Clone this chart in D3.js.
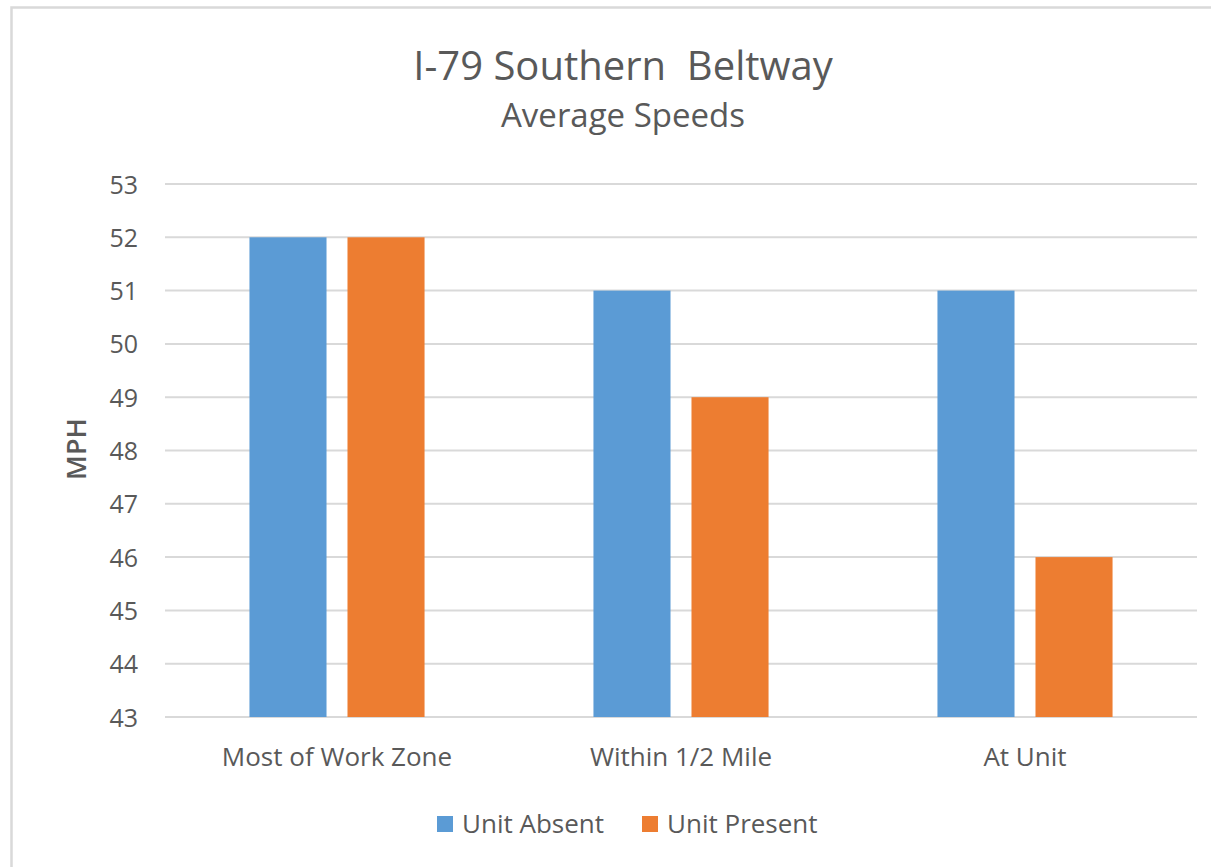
<!DOCTYPE html>
<html>
<head>
<meta charset="utf-8">
<script src="https://cdn.jsdelivr.net/npm/d3@7"></script>
<style>
  html, body { margin: 0; padding: 0; background: #fff; }
  svg text { font-family: "Open Sans", "Liberation Sans", sans-serif; fill: #595959; }
</style>
</head>
<body>
<svg id="chart" width="1211" height="867"></svg>
<script>
const categories = ["Most of Work Zone", "Within 1/2 Mile", "At Unit"];
const seriesNames = ["Unit Absent", "Unit Present"];
const unitAbsent = [52, 51, 51];
const unitPresent = [52, 49, 46];
const yTicks = [43, 44, 45, 46, 47, 48, 49, 50, 51, 52, 53];
const colors = ["#5B9BD5", "#ED7D31"];
const titleText = "I-79 Southern  Beltway";
const subtitleText = "Average Speeds";
const yLabel = "MPH";

const seriesValues = [unitAbsent, unitPresent];
const svg = d3.select("#chart");

// chart frame
svg.append("rect").attr("x", 11.5).attr("y", 7.5).attr("width", 1300).attr("height", 1000)
  .attr("fill", "#fff").attr("stroke", "#D9D9D9").attr("stroke-width", 2.5);

const plot = { left: 165, right: 1197, top: 184, bottom: 717 };

const y = d3.scaleLinear().domain([43, 53]).range([plot.bottom, plot.top]);
const x0 = d3.scaleBand().domain(categories).range([plot.left, plot.right])
  .paddingInner(0.491).paddingOuter(0.2455);
const x1 = d3.scaleBand().domain(seriesNames).range([0, x0.bandwidth()])
  .paddingInner(0.214).paddingOuter(0);

// gridlines
const grid = svg.append("g");
grid.selectAll("line").data(yTicks).join("line")
  .attr("x1", plot.left).attr("x2", plot.right)
  .attr("y1", d => y(d)).attr("y2", d => y(d))
  .attr("stroke", "#D9D9D9").attr("stroke-width", 2);

// y axis tick labels
const yAxis = d3.axisLeft(y).tickValues(yTicks).tickSize(0).tickPadding(0).tickFormat(d3.format("d"));
const gy = svg.append("g").attr("transform", `translate(${plot.left - 27},0)`).call(yAxis);
gy.select(".domain").remove();
gy.selectAll("text").attr("font-size", 25).style("font-family", '"Open Sans", sans-serif').attr("fill", "#595959").attr("dy", "0.36em");

// bars
const groups = svg.append("g").selectAll("g").data(categories).join("g")
  .attr("transform", d => `translate(${x0(d)},0)`);
groups.selectAll("rect").data((c, i) => seriesNames.map((s, j) => ({ s, v: seriesValues[j][i], j })))
  .join("rect")
  .attr("x", d => x1(d.s))
  .attr("width", x1.bandwidth())
  .attr("y", d => y(d.v))
  .attr("height", d => y(43) - y(d.v))
  .attr("fill", d => colors[d.j]);

// x axis labels
const xAxis = d3.axisBottom(x0).tickSize(0).tickPadding(0);
const gx = svg.append("g").attr("transform", `translate(0,766)`).call(xAxis);
gx.select(".domain").remove();
gx.selectAll("text").attr("font-size", 26).style("font-family", '"Open Sans", sans-serif').attr("fill", "#595959").attr("dy", "0");

// titles
svg.append("text").attr("x", 623).attr("y", 80).attr("text-anchor", "middle")
  .attr("font-size", 40).style("white-space", "pre").text(titleText);
svg.append("text").attr("x", 623).attr("y", 127).attr("text-anchor", "middle")
  .attr("font-size", 33).text(subtitleText);

// y label
svg.append("text").attr("transform", `translate(86,449) rotate(-90)`)
  .attr("text-anchor", "middle").attr("font-size", 27).attr("font-weight", 600).text(yLabel);

// legend
const legendItems = [{ name: seriesNames[0], x: 437 }, { name: seriesNames[1], x: 642 }];
const lg = svg.append("g").selectAll("g").data(legendItems).join("g")
  .attr("transform", d => `translate(${d.x},824)`);
lg.append("rect").attr("x", 0).attr("y", -8).attr("width", 16).attr("height", 16)
  .attr("fill", (d, i) => colors[i]);
lg.append("text").attr("x", 25).attr("y", 0).attr("dy", "0.36em").attr("font-size", 26).text(d => d.name);
</script>
</body>
</html>
